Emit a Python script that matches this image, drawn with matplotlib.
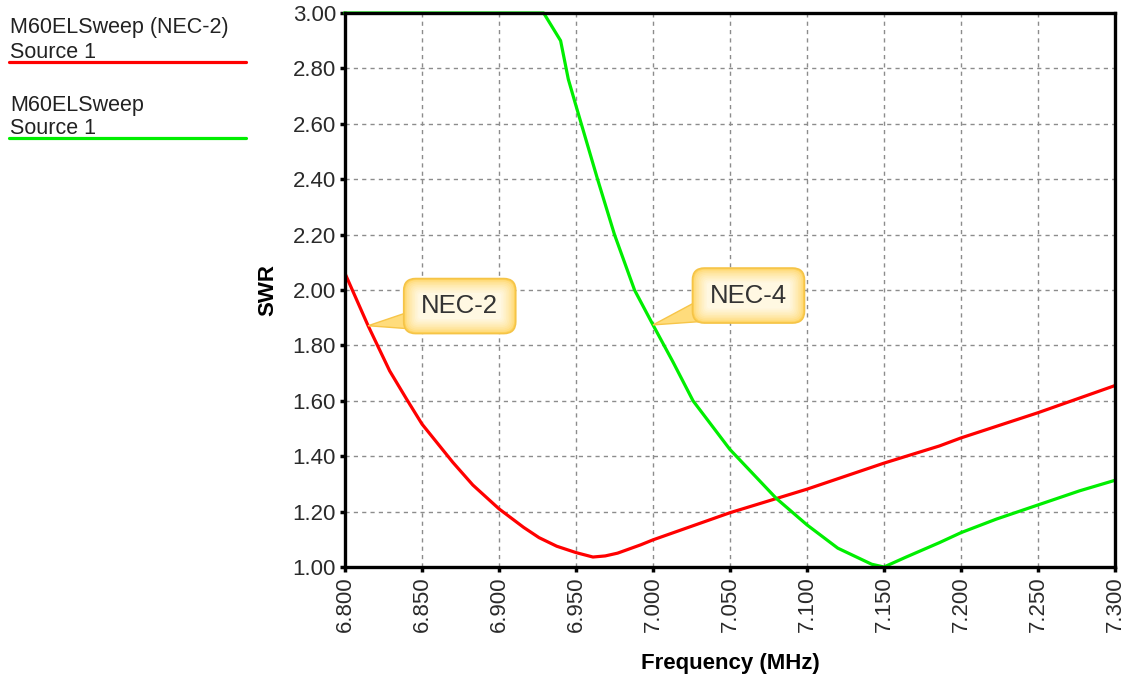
import numpy as np
import matplotlib
matplotlib.use("Agg")
import matplotlib.pyplot as plt
import matplotlib.ticker as mticker
from matplotlib.lines import Line2D
from matplotlib.patches import FancyBboxPatch, Polygon
from matplotlib.transforms import IdentityTransform
from matplotlib.colors import to_rgb

plt.rcParams['font.family'] = ['Liberation Sans', 'DejaVu Sans']

# SWR sweep, frequency in MHz
freq_nec2 = [6.800, 6.815, 6.829, 6.840, 6.850, 6.870, 6.883, 6.900, 6.916, 6.926,
             6.9375, 6.950, 6.961, 6.969, 6.977, 6.992, 7.000, 7.050, 7.100, 7.150,
             7.186, 7.200, 7.250, 7.300]
swr_nec2 = [2.060, 1.871, 1.708, 1.606, 1.516, 1.378, 1.296, 1.210, 1.143, 1.106,
            1.075, 1.052, 1.036, 1.040, 1.050, 1.080, 1.098, 1.196, 1.281, 1.375,
            1.437, 1.466, 1.557, 1.655]

freq_nec4 = [6.800, 6.929, 6.940, 6.945, 6.950, 6.964, 6.975, 6.988, 7.000, 7.013,
             7.026, 7.050, 7.080, 7.100, 7.120, 7.142, 7.150, 7.164, 7.186, 7.200,
             7.223, 7.250, 7.277, 7.300]
swr_nec4 = [3.000, 3.000, 2.900, 2.761, 2.665, 2.400, 2.200, 2.000, 1.874, 1.740,
            1.600, 1.424, 1.248, 1.152, 1.068, 1.010, 1.000, 1.035, 1.088, 1.124,
            1.173, 1.224, 1.275, 1.313]

legend_labels = [("M60ELSweep (NEC-2)", "Source 1"), ("M60ELSweep", "Source 1")]
legend_colors = ["#ff0000", "#00ee00"]

# label, point on curve, bubble centre (data units)
callouts = [("NEC-2", 6.815, 1.871, 6.8745, 1.942),
            ("NEC-4", 7.000, 1.874, 7.0620, 1.980)]

W, H = 1131, 675
fig = plt.figure(figsize=(W / 100, H / 100), dpi=100)
ax = fig.add_axes([345 / W, 1 - 567 / H, 770 / W, 554 / H])

ax.plot(freq_nec2, swr_nec2, color="#ff0000", lw=2.3, zorder=3)
ax.plot(freq_nec4, swr_nec4, color="#00ee00", lw=2.3, zorder=3, clip_on=False)

ax.set_xlim(6.8, 7.3)
ax.set_ylim(1.0, 3.0)
ax.set_xticks(np.arange(6.8, 7.3001, 0.05))
ax.set_yticks(np.arange(1.0, 3.0001, 0.2))
ax.xaxis.set_major_formatter(mticker.FormatStrFormatter("%.3f"))
ax.yaxis.set_major_formatter(mticker.FormatStrFormatter("%.2f"))
ax.tick_params(axis="both", direction="out", length=3.5, width=2.5, color="black",
               labelsize=16, labelcolor="#2a2a2a", pad=3)
ax.tick_params(axis="x", labelrotation=90)
ax.grid(True, color="#8c8c8c", ls=(0, (3, 3)), lw=1)
ax.set_axisbelow(True)
for s in ax.spines.values():
    s.set_linewidth(2.4)
    s.set_color("black")
    s.set_zorder(4)

ax.set_xlabel("Frequency (MHz)", fontsize=16, fontweight="bold", labelpad=15)
ax.set_ylabel("SWR", fontsize=16, fontweight="bold", labelpad=10)


def mix(c1, c2, t):
    a, b = np.array(to_rgb(c1)), np.array(to_rgb(c2))
    return tuple(a + (b - a) * t)


def bubble(text, px, py, cx, cy, bw=112, bh=55, r=12):
    # work in pixels so the rounded box keeps its shape
    tip = ax.transData.transform((px, py))
    cen = ax.transData.transform((cx, cy))
    x0, y0 = cen[0] - bw / 2, cen[1] - bh / 2
    wedge = Polygon([tip, (x0 + 3, y0 + bh * 0.38), (x0 + 30, y0 + 3)],
                    closed=True, fc="#ffdc7c", ec="#f7c548", lw=1.0,
                    transform=IdentityTransform(), zorder=5)
    fig.add_artist(wedge)
    steps = 10
    for i in range(steps):
        t = i / (steps - 1)
        inset = i * 1.6
        fc = mix("#ffd35e", "#fff8e2", t ** 0.6)
        box = FancyBboxPatch((x0 + inset, y0 + inset), bw - 2 * inset, bh - 2 * inset,
                             boxstyle="round,pad=0,rounding_size=%g" % max(r - inset * 0.6, 3),
                             fc=fc, ec="#f5c447" if i == 0 else "none", lw=1.2,
                             transform=IdentityTransform(), zorder=5)
        fig.add_artist(box)
    fig.text(cen[0] / W, cen[1] / H, text, fontsize=18.5, color="#333333",
             ha="center", va="center", zorder=6)


for lab, px, py, cx, cy in callouts:
    bubble(lab, px, py, cx, cy)

# legend block to the left of the plot
base1 = [33.0, 110.5]
base2 = [57.5, 133.5]
line_y = [62.3, 138.3]
for (l1, l2), col, b1, b2, ly in zip(legend_labels, legend_colors, base1, base2, line_y):
    fig.text(10 / W, 1 - b1 / H, l1, fontsize=15.5, color="#222222",
             va="baseline", ha="left")
    fig.text(10 / W, 1 - b2 / H, l2, fontsize=15.5, color="#222222",
             va="baseline", ha="left")
    fig.add_artist(Line2D([9 / W, 246 / W], [1 - ly / H, 1 - ly / H], color=col,
                          lw=2.3, solid_capstyle="round", transform=fig.transFigure))

fig.savefig("out.png", dpi=100)
